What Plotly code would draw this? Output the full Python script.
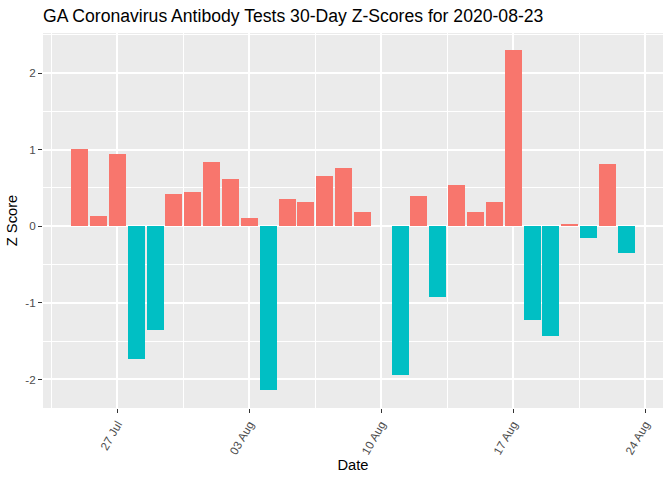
import plotly.graph_objects as go
import pandas as pd

dates = pd.date_range("2020-07-25", "2020-08-23", freq="D").strftime("%Y-%m-%d").tolist()
z_scores = [1.01, 0.13, 0.94, -1.73, -1.35, 0.42, 0.45, 0.84, 0.62, 0.11,
            -2.14, 0.36, 0.32, 0.65, 0.76, 0.19, None, -1.94, 0.40, -0.93,
            0.54, 0.19, 0.32, 2.30, -1.22, -1.43, 0.03, -0.15, 0.81, -0.35]
tick_dates = ["2020-07-27", "2020-08-03", "2020-08-10", "2020-08-17", "2020-08-24"]
tick_labels = ["27 Jul", "03 Aug", "10 Aug", "17 Aug", "24 Aug"]

POS = "#F8766D"
NEG = "#00BFC4"
colors = [("#EBEBEB" if v is None else (POS if v > 0 else NEG)) for v in z_scores]

fig = go.Figure(go.Bar(
    x=dates, y=z_scores, marker_color=colors, marker_line_width=0,
    width=0.9 * 86400000, showlegend=False,
))

W, H = 672, 480
fig.update_layout(
    width=W, height=H,
    margin=dict(l=43, r=9, t=33, b=72),
    paper_bgcolor="white", plot_bgcolor="#EBEBEB",
    font=dict(family="Liberation Sans, Arial, sans-serif", color="#4D4D4D"),
    title=dict(text="GA Coronavirus Antibody Tests 30-Day Z-Scores for 2020-08-23",
               x=43 / W, xanchor="left", y=1 - 16 / H, yanchor="middle",
               font=dict(size=17.6, color="black")),
    bargap=0,
)

fig.update_xaxes(
    type="date", automargin=False,
    range=["2020-07-23 01:12", "2020-08-24 22:48"],
    tickvals=tick_dates, ticktext=tick_labels,
    tickangle=-60, tickfont=dict(size=11.7, color="#4D4D4D"),
    ticks="outside", ticklen=4, tickcolor="#333333", tickwidth=1,
    showgrid=True, gridcolor="white", gridwidth=1.6,
    minor=dict(tick0="2020-07-23 12:00", dtick=7 * 86400000, showgrid=True,
               gridcolor="white", gridwidth=0.8, ticks=""),
    zeroline=False, showline=False,
    title=dict(text="Date", font=dict(size=14.7, color="black"), standoff=1),
)

fig.update_yaxes(
    automargin=False,
    range=[-2.3725, 2.5225],
    tickvals=[-2, -1, 0, 1, 2], ticktext=["-2", "-1", "0", "1", "2"],
    tickfont=dict(size=11.7, color="#4D4D4D"),
    ticks="outside", ticklen=4, tickcolor="#333333", tickwidth=1,
    showgrid=True, gridcolor="white", gridwidth=1.6,
    minor=dict(tickvals=[-1.5, -0.5, 0.5, 1.5, 2.5], showgrid=True,
               gridcolor="white", gridwidth=0.8, ticks=""),
    zeroline=False, showline=False,
    title=dict(text="Z Score", font=dict(size=14.7, color="black"), standoff=4),
)

fig.write_html("out.html", config={"displayModeBar": False},
               post_script="document.body.style.margin='0';")
